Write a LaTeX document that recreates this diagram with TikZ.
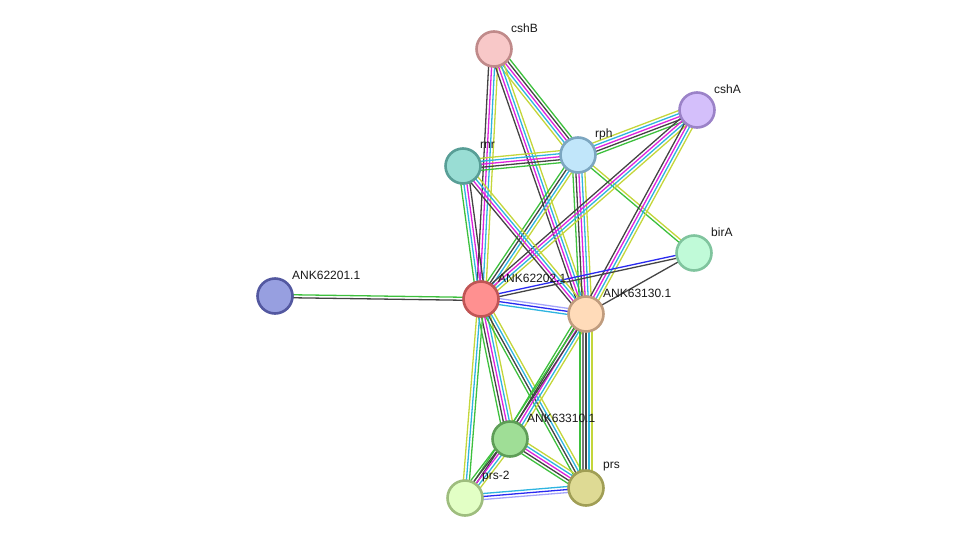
\documentclass[tikz,border=0pt]{standalone}
\usepackage{fontspec}
\setmainfont{Liberation Sans}
\usetikzlibrary{calc,backgrounds}
\definecolor{eg}{HTML}{3DC03D}
\definecolor{ek}{HTML}{444444}
\definecolor{ea}{HTML}{7A7A7A}
\definecolor{em}{HTML}{DD22DD}
\definecolor{ec}{HTML}{2EB4E0}
\definecolor{ey}{HTML}{C4D63A}
\definecolor{eb}{HTML}{2A2AF0}
\definecolor{el}{HTML}{A4A4FA}
\definecolor{fcshB}{HTML}{F8C8C8}\definecolor{dcshB}{HTML}{C08A8A}
\definecolor{fcshA}{HTML}{D4BFFB}\definecolor{dcshA}{HTML}{9B82C8}
\definecolor{frph}{HTML}{C1E6FA}\definecolor{drph}{HTML}{7CA6C0}
\definecolor{frnr}{HTML}{99DDD4}\definecolor{drnr}{HTML}{589E96}
\definecolor{fbirA}{HTML}{C0FAD8}\definecolor{dbirA}{HTML}{80C49E}
\definecolor{fA01}{HTML}{979FE0}\definecolor{dA01}{HTML}{5358A0}
\definecolor{fA02}{HTML}{FF9090}\definecolor{dA02}{HTML}{C05555}
\definecolor{fA30}{HTML}{FFDBB9}\definecolor{dA30}{HTML}{C09C7E}
\definecolor{fA10}{HTML}{9FDE96}\definecolor{dA10}{HTML}{5E9E57}
\definecolor{fprs2}{HTML}{E2FFC5}\definecolor{dprs2}{HTML}{9EBD7E}
\definecolor{fprs}{HTML}{DEDA94}\definecolor{dprs}{HTML}{A09E55}
\newcommand\mline[3]{%
  \foreach \cc [count=\ii] in {#3} {\xdef\nlines{\ii}}%
  \foreach \cc [count=\ii] in {#3} {%
    \pgfmathsetmacro\off{(\ii-(\nlines+1)/2)*3}%
    \draw[draw=\cc, line width=1.3pt] ($(#1)!\off pt!90:(#2)$) -- ($(#2)!\off pt!-90:(#1)$);
  }%
}
\tikzset{
  prot/.style={circle, minimum size=35pt, inner sep=0pt, line width=2.6pt, fill=f#1, draw=d#1},
  lab/.style={anchor=west, font=\fontsize{12}{14}\selectfont, text=black!90, inner sep=0pt}
}
\begin{document}
\begin{tikzpicture}[x=1pt,y=-1pt]
\useasboundingbox (0,0) rectangle (976,544);
\node[prot=cshB] (cshB) at (494,49) {};
\node[prot=cshA] (cshA) at (697,110) {};
\node[prot=rph] (rph) at (578,155) {};
\node[prot=rnr] (rnr) at (463,166) {};
\node[prot=birA] (birA) at (694,253) {};
\node[prot=A01] (A01) at (275,296) {};
\node[prot=A02] (A02) at (481,299) {};
\node[prot=A30] (A30) at (586,314) {};
\node[prot=A10] (A10) at (510,439) {};
\node[prot=prs2] (prs2) at (465,498) {};
\node[prot=prs] (prs) at (586,488) {};
\begin{pgfonlayer}{background}
\mline{cshB}{A02}{ek,em,ec,ey}
\mline{cshB}{rph}{ey,ec,em,ek,eg}
\mline{cshB}{A30}{ek,em,ec,ey}
\mline{rnr}{rph}{eg,ek,em,ec,ey}
\mline{rph}{cshA}{eg,ek,em,ec,ey}
\mline{rph}{birA}{eg,ey}
\mline{rph}{A02}{eg,ek,ec,ey}
\mline{rph}{A30}{eg,ek,em,ec,ey}
\mline{cshA}{A02}{ek,em,ec,ey}
\mline{cshA}{A30}{ek,em,ec,ey}
\mline{birA}{A02}{eb,ek}
\mline{birA}{A30}{ek}
\mline{rnr}{A02}{eg,ec,em,ek}
\mline{rnr}{A30}{ek,em,ec,ey}
\mline{A01}{A02}{ek,eg}
\mline{A02}{A30}{ec,eb,el}
\mline{A02}{A10}{eg,ek,em,ec,ey}
\mline{A02}{prs}{eg,ek,ec,ey}
\mline{A02}{prs2}{ey,ec,eg}
\mline{A30}{A10}{eg,ek,em,ec,ey}
\mline{A30}{prs}{eg,ea,ek,ec,ey}
\mline{A30}{prs2}{eg,ek}
\mline{A10}{prs2}{eg,ek,em,ec,ey}
\mline{A10}{prs}{eg,ek,em,ec,ey}
\mline{prs2}{prs}{el,eb,ec}
\end{pgfonlayer}
\node[lab] (lcshB) at ($(cshB)+(17,-21)$) {cshB};
\node[lab] (lcshA) at ($(cshA)+(17,-21)$) {cshA};
\node[lab] (lrph) at ($(rph)+(17,-21)$) {rph};
\node[lab] (lrnr) at ($(rnr)+(17,-21)$) {rnr};
\node[lab] (lbirA) at ($(birA)+(17,-21)$) {birA};
\node[lab] (lA01) at ($(A01)+(17,-21)$) {ANK62201.1};
\node[lab] (lA02) at ($(A02)+(17,-21)$) {ANK62202.1};
\node[lab] (lA30) at ($(A30)+(17,-21)$) {ANK63130.1};
\node[lab] (lA10) at ($(A10)+(17,-21)$) {ANK63310.1};
\node[lab] (lprs2) at ($(prs2)+(17,-21)$) {prs-2};
\node[lab] (lprs) at ($(prs)+(17,-21)$) {prs};
\end{tikzpicture}
\end{document}
